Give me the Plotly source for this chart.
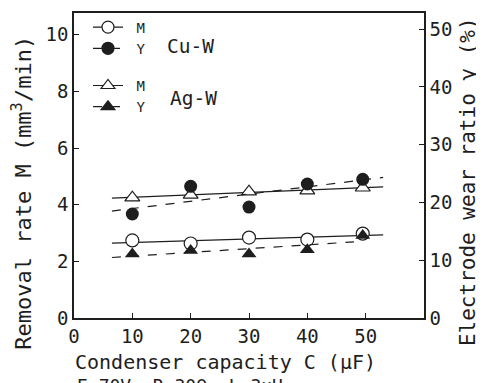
import numpy as np
import plotly.graph_objects as go

# ---- data ----
capacity = [10, 20, 30, 40, 49.5]          # Condenser capacity C (uF)
m_cuw = [2.74, 2.63, 2.84, 2.77, 2.98]      # Removal rate M, Cu-W (mm3/min)
m_agw = [4.25, 4.35, 4.46, 4.50, 4.60]      # Removal rate M, Ag-W
y_cuw = [18.0, 22.8, 19.2, 23.2, 24.0]      # Electrode wear ratio Y, Cu-W (%)
y_agw = [11.1, 11.7, 11.1, 11.8, 14.3]      # Electrode wear ratio Y, Ag-W (%)

x_ticks = [0, 10, 20, 30, 40, 50]
m_ticks = [0, 2, 4, 6, 8, 10]
y_ticks = [0, 10, 20, 30, 40, 50]

FONT = "DejaVu Sans Mono"
INK = "#1e1e1e"


def fit(xs, ys, x0, x1):
    k, b = np.polyfit(xs, ys, 1)
    xx = np.array([x0, x1])
    return xx, k * xx + b


fig = go.Figure()

# regression lines
for ys, axis, dash, span in [
    (m_cuw, "y", "solid", (6.5, 53)),
    (m_agw, "y", "solid", (6.5, 53)),
    (y_cuw, "y2", "dash", (6.5, 53)),
    (y_agw, "y2", "dash", (6.5, 48)),
]:
    fx, fy = fit(capacity, ys, *span)
    fig.add_trace(go.Scatter(x=fx, y=fy, mode="lines", yaxis=axis, showlegend=False,
                             line=dict(color=INK, width=1.2, dash=dash), hoverinfo="skip"))

# markers (filled first, open on top)
fig.add_trace(go.Scatter(x=capacity, y=y_agw, mode="markers", yaxis="y2", showlegend=False,
                         marker=dict(symbol="triangle-up", size=13, color=INK)))
fig.add_trace(go.Scatter(x=capacity, y=y_cuw, mode="markers", yaxis="y2", showlegend=False,
                         marker=dict(symbol="circle", size=13, color=INK)))
fig.add_trace(go.Scatter(x=capacity, y=m_agw, mode="markers", yaxis="y", showlegend=False,
                         marker=dict(symbol="triangle-up", size=13, color="white",
                                     line=dict(color=INK, width=1.2))))
fig.add_trace(go.Scatter(x=capacity, y=m_cuw, mode="markers", yaxis="y", showlegend=False,
                         marker=dict(symbol="circle", size=13, color="white",
                                     line=dict(color=INK, width=1.2))))

# legend entries
legend_items = [
    ("M", "cu", "circle", "white", "solid"),
    ("Y", "cu", "circle", INK, "dash"),
    ("M", "ag", "triangle-up", "white", "solid"),
    ("Y", "ag", "triangle-up", INK, "dash"),
]
for name, grp, sym, fill, dash in legend_items:
    fig.add_trace(go.Scatter(x=[None], y=[None], mode="lines+markers",
                             name="\u00a0" + name,
                             legendgroup=grp,
                             line=dict(color=INK, width=1.2, dash=dash),
                             marker=dict(symbol=sym, size=12, color=fill,
                                         line=dict(color=INK, width=1.2))))

axis_common = dict(showline=True, linecolor=INK, linewidth=1.5, ticks="inside",
                   ticklen=5, tickcolor=INK, showgrid=False, zeroline=False,
                   tickfont=dict(family=FONT, size=19, color=INK))

fig.update_layout(
    width=484, height=383,
    margin=dict(l=66, r=68, t=3, b=73),
    paper_bgcolor="white", plot_bgcolor="white",
    font=dict(family=FONT, color=INK),
    xaxis=dict(range=[0, 60], tickvals=x_ticks, mirror=True, **axis_common),
    yaxis=dict(range=[0, 10.77], tickvals=m_ticks, **axis_common),
    yaxis2=dict(range=[0, 52.8], tickvals=y_ticks, overlaying="y", side="right",
                **axis_common),
    legend=dict(x=0.04, y=1.005, xanchor="left", yanchor="top",
                bgcolor="rgba(0,0,0,0)", tracegroupgap=16, traceorder="grouped",
                font=dict(family=FONT, size=14, color=INK), itemwidth=30),
    showlegend=True,
)

annos = [
    dict(text="Cu-W", x=0.26, y=0.889),
    dict(text="Ag-W", x=0.269, y=0.72),
]
for a in annos:
    fig.add_annotation(text=a["text"], xref="paper", yref="paper", x=a["x"], y=a["y"],
                       xanchor="left", yanchor="middle", showarrow=False,
                       font=dict(family=FONT, size=19.5, color=INK))

fig.add_annotation(text="Condenser capacity C (μF)", xref="paper", yref="paper",
                   x=0.434, y=-0.143, xanchor="center", yanchor="middle", showarrow=False,
                   font=dict(family=FONT, size=20, color=INK))
fig.add_annotation(text="E=70V, R=30Ω, L=3μH", xref="paper", yref="paper",
                   x=0.003, y=-0.222, xanchor="left", yanchor="middle", showarrow=False,
                   font=dict(family=FONT, size=18, color=INK))
fig.add_annotation(text="Removal rate M (mm<sup>3</sup>/min)", xref="paper", yref="paper",
                   x=-0.149, y=0.41, xanchor="center", yanchor="middle", showarrow=False,
                   textangle=-90, font=dict(family=FONT, size=22, color=INK))
fig.add_annotation(text="Electrode wear ratio γ (%)", xref="paper", yref="paper",
                   x=1.126, y=0.446, xanchor="center", yanchor="middle", showarrow=False,
                   textangle=-90, font=dict(family=FONT, size=21, color=INK))

fig.write_html("out.html")
